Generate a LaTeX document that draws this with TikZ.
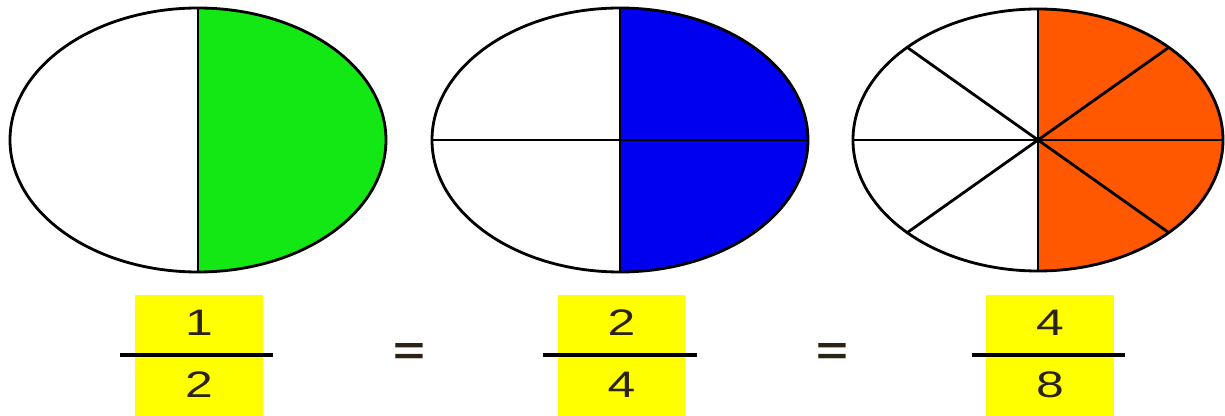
\documentclass[tikz,border=0pt]{standalone}
\usepackage{fontspec}
\setmainfont{Liberation Sans}
\usetikzlibrary{positioning}
\definecolor{partgreen}{RGB}{20,232,20}
\definecolor{partblue}{RGB}{0,0,240}
\definecolor{partorange}{RGB}{255,88,0}
\definecolor{fracyellow}{RGB}{255,255,0}
\definecolor{digitdark}{RGB}{45,35,20}

\begin{document}
\begin{tikzpicture}[x=0.02cm, y=0.02cm, line width=1.6pt,
	digit/.style={font=\fontsize{21}{21}\selectfont, text=digitdark, xscale=1.35, inner sep=0pt},
	fracbox/.style={fill=fracyellow, draw=none, minimum width=2.56cm, minimum height=2.42cm, inner sep=0pt}]
		\useasboundingbox (0,0) rectangle (1225,416);
		
		% --- Ellipses (moitie droite coloriee) ---
		\foreach \cx/\rx/\ry/\col/\k in {198/188/132/partgreen/1, 620/188/132/partblue/2, 1038/185/131/partorange/3} {
			\coordinate (c\k) at (\cx,276);
			\fill[\col] (c\k) ++(0,-\ry) arc[start angle=-90, end angle=90, x radius=\rx, y radius=\ry] -- cycle;
			\draw (c\k) ellipse[x radius=\rx, y radius=\ry];
			\draw (c\k) ++(0,-\ry) -- ++(0,2*\ry);
		}
		
		% --- Quarts ---
		\draw (c2) ++(-188,0) -- ++(376,0);
		
		% --- Huitiemes ---
		\foreach \a in {0,45,...,315} {
			\draw (c3) -- ++({185*cos(\a)},{131*sin(\a)});
		}
		\fill (c3) circle (3);
		
		% --- Fractions ---
		\foreach \bx/\lx/\rx/\n/\d/\k in {199/120/273/1/2/1, 621.5/543/697/2/4/2, 1050/972/1125/4/8/3} {
			\node[fracbox] (box\k) at (\bx,60.5) {};
			\node[digit] (num\k) at (\bx,93) {\n};
			\node[digit] (den\k) at (\bx,31) {\d};
			\coordinate (barL\k) at (\lx,61);
			\coordinate (barR\k) at (\rx,61);
			\draw[line width=1.8pt] (barL\k) -- (barR\k);
		}
		
		% --- Signes egal ---
		\node[digit, font=\fontsize{23}{23}\selectfont\bfseries] (eq1) at (409,62) {=};
		\node[digit, font=\fontsize{23}{23}\selectfont\bfseries] (eq2) at (832,62) {=};
		
	\end{tikzpicture}
\end{document}
